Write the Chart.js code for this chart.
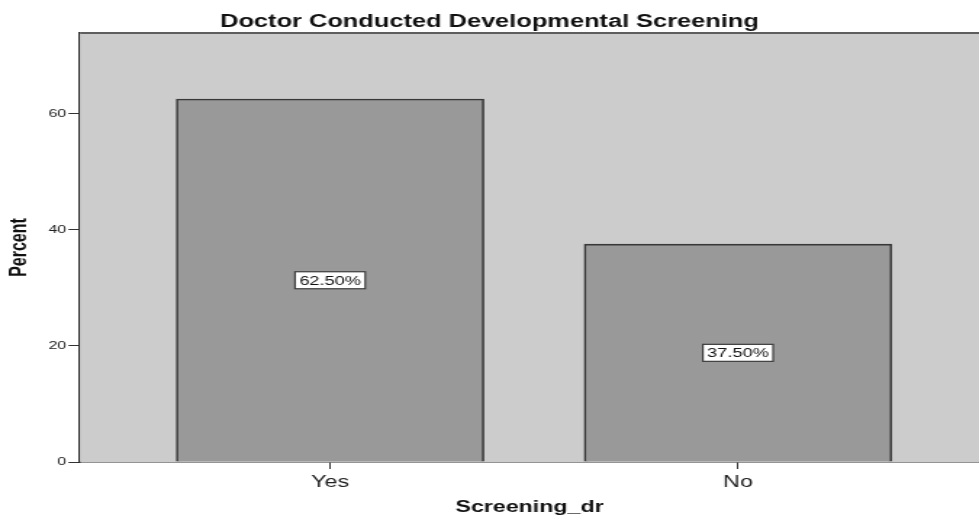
<!DOCTYPE html>
<html lang="en">
<head>
  <meta charset="UTF-8">
  <title>Doctor Conducted Developmental Screening</title>
  <style>
    body { margin: 0; background: #fff; }
    /* the reference is stretched sideways, so the chart is drawn narrow and scaled in x */
    .wrap {
      width: 675px;
      height: 518px;
      transform: scaleX(1.4504);
      transform-origin: 0 0;
    }
  </style>
</head>
<body>
  <div class="wrap">
    <canvas id="chart" width="675" height="518"></canvas>
  </div>

  <script src="https://cdn.jsdelivr.net/npm/chart.js@4.4.1/dist/chart.umd.min.js"></script>
  <script>
    // Données
    const categories = ["Yes", "No"];
    const percents = [62.5, 37.5];
    const yTicks = [0, 20, 40, 60];

    const FONT = "'Liberation Sans', Arial, sans-serif";

    // Fond gris de la zone de tracé + bordure du haut
    const plotFrame = {
      id: "plotFrame",
      beforeDatasetsDraw(chart) {
        const { ctx, chartArea: a } = chart;
        ctx.save();
        ctx.fillStyle = "#cccccc";
        ctx.fillRect(a.left, a.top, a.right - a.left, a.bottom - a.top);
        ctx.restore();
      },
      afterDraw(chart) {
        const { ctx, chartArea: a } = chart;
        ctx.save();
        ctx.strokeStyle = "#5e5e5e";
        ctx.lineWidth = 2;
        ctx.beginPath();
        ctx.moveTo(a.left, a.top);
        ctx.lineTo(a.right, a.top);
        ctx.stroke();
        ctx.restore();
      }
    };

    // Étiquettes en pourcentage au milieu des barres
    const barLabels = {
      id: "barLabels",
      afterDatasetsDraw(chart) {
        const { ctx } = chart;
        const meta = chart.getDatasetMeta(0);
        ctx.save();
        ctx.font = "12.5px " + FONT;
        ctx.textAlign = "center";
        ctx.textBaseline = "middle";
        meta.data.forEach((bar, i) => {
          const text = percents[i].toFixed(2) + "%";
          const y = (bar.y + bar.base) / 2;
          const w = ctx.measureText(text).width + 6;
          const h = 17;
          ctx.fillStyle = "#ffffff";
          ctx.fillRect(bar.x - w / 2, y - h / 2, w, h);
          ctx.strokeStyle = "#3c3c3c";
          ctx.lineWidth = 1.2;
          ctx.strokeRect(bar.x - w / 2, y - h / 2, w, h);
          ctx.fillStyle = "#111";
          ctx.fillText(text, bar.x, y + 1);
        });
        ctx.restore();
      }
    };

    const ctx = document.getElementById("chart").getContext("2d");
    new Chart(ctx, {
      type: "bar",
      data: {
        datasets: [{
          data: percents.map((v, i) => ({ x: i + 1, y: v })),
          backgroundColor: "#999999",
          borderColor: "#383838",
          borderWidth: 1.6,
          borderSkipped: "bottom",
          barThickness: 212
        }]
      },
      options: {
        responsive: false,
        animation: false,
        layout: { padding: 0 },
        plugins: {
          legend: { display: false },
          tooltip: { enabled: false },
          title: {
            display: true,
            text: "Doctor Conducted Developmental Screening",
            color: "#111",
            font: { family: FONT, size: 17.5, weight: "bold" },
            padding: { top: 12, bottom: 0 }
          }
        },
        scales: {
          x: {
            type: "linear",
            offset: false,
            min: 0.387,
            max: 2.591,
            afterBuildTicks: s => { s.ticks = categories.map((c, i) => ({ value: i + 1 })); },
            afterFit: s => { s.height = 56; },
            ticks: {
              callback: v => categories[v - 1],
              color: "#222",
              font: { family: FONT, size: 16 },
              padding: 4,
              maxRotation: 0
            },
            grid: { offset: false, drawOnChartArea: false, tickLength: 7, color: "#333" },
            border: { color: "#2a2a2a", width: 1.5 },
            title: {
              display: true,
              text: "Screening_dr",
              color: "#111",
              font: { family: FONT, size: 16, weight: "bold" },
              padding: { top: 0, bottom: 0.5 }
            }
          },
          y: {
            min: 0,
            max: 73.86,
            afterBuildTicks: s => { s.ticks = yTicks.map(v => ({ value: v })); },
            afterFit: s => { s.width = 55.2; },
            ticks: {
              color: "#222",
              font: { family: FONT, size: 11 },
              padding: 1.5
            },
            grid: { drawOnChartArea: false, tickLength: 8, color: "#333" },
            border: { color: "#2a2a2a", width: 1.5 },
            title: {
              display: true,
              text: "Percent",
              color: "#111",
              font: { family: FONT, size: 16, weight: "bold" },
              padding: { top: 4.2, bottom: 0 }
            }
          }
        }
      },
      plugins: [plotFrame, barLabels]
    });
  </script>
</body>
</html>
